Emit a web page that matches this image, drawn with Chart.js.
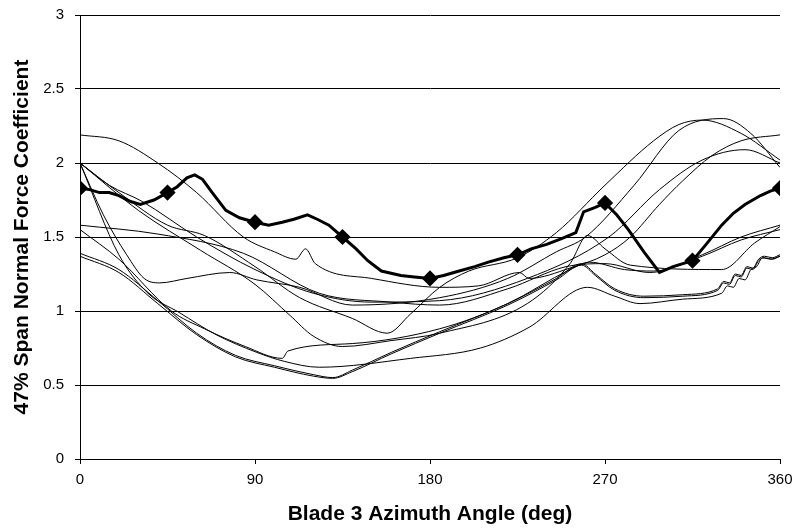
<!DOCTYPE html>
<html>
<head>
<meta charset="utf-8">
<script src="https://cdn.jsdelivr.net/npm/chart.js@4"></script>
<style>
  html, body { margin: 0; padding: 0; background: #fff; }
  #wrap { width: 801px; height: 532px; }
</style>
</head>
<body>
<div id="wrap"><canvas id="chart" width="801" height="532"></canvas></div>
<script>
// measured (thick line with diamonds)
const measured = [[0,1.83],[5,1.82],[10,1.80],[15,1.80],[20,1.78],[26,1.74],[31,1.72],[38,1.75],[45,1.80],[50,1.84],[55,1.90],[59,1.92],[63,1.89],[68,1.80],[75,1.68],[82,1.63],[90,1.60],[97,1.58],[104,1.60],[110,1.62],[117,1.65],[122,1.62],[128,1.58],[135,1.50],[142,1.42],[148,1.34],[155,1.27],[165,1.24],[172,1.23],[180,1.22],[187,1.24],[195,1.27],[203,1.30],[210,1.33],[218,1.36],[225,1.38],[232,1.42],[240,1.45],[248,1.49],[255,1.53],[259,1.67],[265,1.70],[270,1.73],[276,1.65],[282,1.55],[290,1.40],[298,1.26],[305,1.30],[315,1.34],[322,1.45],[330,1.58],[336,1.66],[342,1.72],[350,1.78],[355,1.81],[360,1.83]];

// model curves (thin lines)
const model1 = [[0,2.19],[20,2.15],[40,2.0],[60,1.80],[84,1.50],[100,1.40],[111,1.35],[116,1.42],[121,1.32],[150,1.22],[185,1.16],[205,1.17],[226,1.26],[231,1.22],[252,1.29],[270,1.38],[283,1.50],[298,1.72],[310,1.88],[325,2.05],[340,2.15],[360,2.19]];
const model2 = [[0,2.0],[12,1.65],[24,1.38],[33,1.22],[41,1.19],[55,1.22],[77,1.26],[91,1.21],[113,1.16],[140,1.04],[185,1.09],[220,1.22],[245,1.40],[260,1.50],[285,1.85],[308,2.22],[331,2.30],[345,2.20],[360,1.97]];
const model3 = [[0,2.0],[20,1.80],[45,1.58],[64,1.51],[90,1.30],[113,1.09],[140,0.95],[158,0.85],[170,0.98],[185,1.16],[200,1.27],[225,1.36],[245,1.53],[270,1.85],[295,2.15],[308,2.26],[320,2.29],[340,2.20],[360,2.02]];
const model4 = [[0,2.0],[15,1.85],[32,1.74],[60,1.50],[90,1.28],[120,1.12],[150,1.06],[185,1.07],[230,1.22],[272,1.50],[298,1.82],[320,2.02],[342,2.09],[360,2.0]];
const model5 = [[0,2.0],[30,1.68],[62,1.41],[90,1.18],[108,0.97],[120,0.83],[135,0.76],[160,0.80],[185,0.85],[230,1.05],[252,1.32],[261,1.51],[270,1.42],[283,1.31],[330,1.28],[347,1.46],[360,1.57]];
const model6 = [[0,1.58],[40,1.52],[84,1.39],[123,1.12],[160,1.06],[185,1.04],[220,1.15],[250,1.30],[270,1.32],[293,1.26],[320,1.38],[340,1.50],[360,1.58]];
const model7 = [[0,1.55],[20,1.35],[47,1.00],[64,0.88],[85,0.76],[104,0.68],[107,0.73],[140,0.78],[185,0.88],[220,1.05],[252,1.28],[262,1.33],[280,1.28],[295,1.27],[320,1.37],[340,1.48],[360,1.55]];
const model8 = [[0,1.39],[20,1.28],[40,1.07],[60,0.85],[80,0.70],[100,0.63],[120,0.57],[130,0.55],[140,0.60],[160,0.72],[185,0.86],[220,1.05],[245,1.22],[258,1.32],[265,1.25],[275,1.15],[290,1.10],[310,1.11],[328,1.15],[331,1.20],[334,1.19],[337,1.25],[340,1.24],[343,1.30],[346,1.29],[349,1.35],[352,1.37],[356,1.36],[360,1.38]];
const model9 = [[0,1.37],[20,1.26],[40,1.05],[60,0.84],[80,0.69],[100,0.62],[120,0.56],[130,0.545],[140,0.59],[160,0.71],[185,0.85],[220,1.04],[245,1.21],[258,1.31],[265,1.24],[275,1.14],[290,1.09],[310,1.10],[328,1.14],[331,1.19],[334,1.18],[337,1.24],[340,1.23],[343,1.29],[346,1.28],[349,1.34],[352,1.36],[356,1.35],[360,1.37]];
const model10 = [[0,2.0],[20,1.38],[35,1.12],[51,0.99],[70,0.84],[91,0.72],[105,0.66],[123,0.62],[170,0.68],[206,0.75],[231,0.89],[261,1.16],[275,1.10],[288,1.05],[310,1.08],[330,1.12],[333,1.17],[336,1.16],[339,1.22],[342,1.21],[345,1.28],[348,1.30],[351,1.36],[355,1.35],[360,1.37]];

const xTicks = [0, 90, 180, 270, 360];
const yTicks = [0, 0.5, 1, 1.5, 2, 2.5, 3];

const models = [model1, model2, model3, model4, model5, model6, model7, model8, model9, model10];

const toXY = arr => arr.map(p => ({ x: p[0], y: p[1] }));

const datasets = models.map(m => ({
    data: toXY(m),
    borderColor: '#000',
    borderWidth: 1,
    pointRadius: 0,
    cubicInterpolationMode: 'monotone',
    fill: false
}));

datasets.push({
    data: toXY(measured),
    borderColor: '#000',
    backgroundColor: '#000',
    borderWidth: 3,
    pointStyle: 'rectRot',
    pointRadius: ctx => (ctx.raw && ctx.raw.x % 45 === 0 ? 6 : 0),
    tension: 0,
    fill: false
});

const tickFont = { family: 'Liberation Sans', size: 15 };
const titleFont = { family: 'Liberation Sans', size: 21, weight: 'bold' };

const ctx = document.getElementById('chart').getContext('2d');
new Chart(ctx, {
    type: 'line',
    data: { datasets: datasets },
    options: {
        responsive: false,
        animation: false,
        devicePixelRatio: 1,
        layout: { padding: { left: 0, right: 21, top: 0, bottom: 0 } },
        plugins: { legend: { display: false }, tooltip: { enabled: false } },
        scales: {
            x: {
                type: 'linear',
                min: 0,
                max: 360,
                afterBuildTicks: s => { s.ticks = xTicks.map(v => ({ value: v })); },
                afterFit: s => { s.height = 73; },
                grid: { drawOnChartArea: false, drawTicks: true, tickLength: 5, color: '#000' },
                border: { color: '#000', width: 1 },
                ticks: { color: '#000', font: tickFont, padding: 7, maxRotation: 0 },
                title: { display: true, text: 'Blade 3 Azimuth Angle (deg)', color: '#000', font: titleFont, padding: { top: 0, bottom: 5 } }
            },
            y: {
                type: 'linear',
                min: 0,
                max: 3,
                afterBuildTicks: s => { s.ticks = yTicks.map(v => ({ value: v })); },
                afterFit: s => { s.width = 80; s.paddingTop = 15; },
                grid: { color: '#000', lineWidth: 1, tickLength: 5 },
                border: { color: '#000', width: 1 },
                ticks: { color: '#000', font: tickFont, padding: 11, callback: v => String(v) },
                title: { display: true, text: '47% Span Normal Force Coefficient', color: '#000', font: titleFont, padding: { top: 10, bottom: 0 } }
            }
        }
    }
});
</script>
</body>
</html>
